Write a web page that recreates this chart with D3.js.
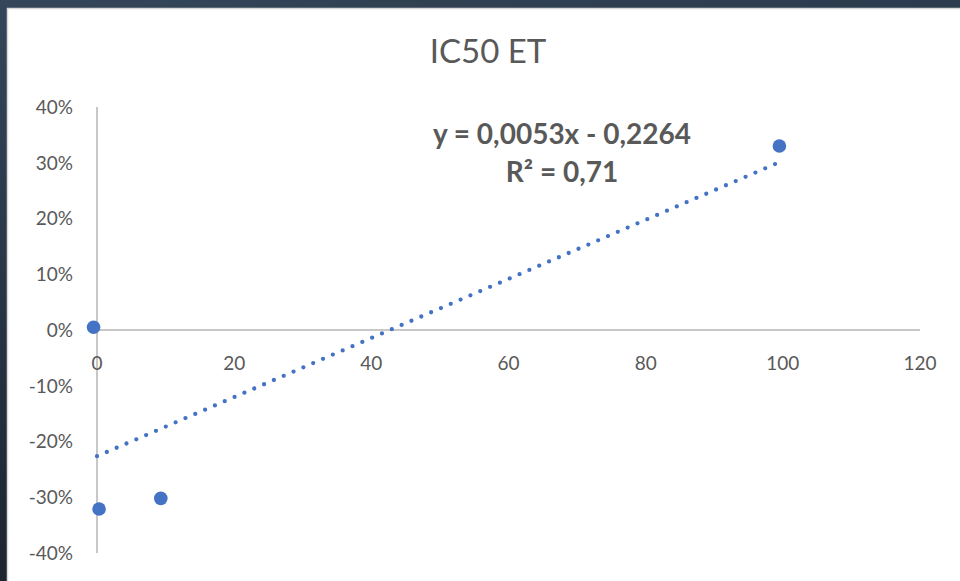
<!DOCTYPE html>
<html><head><meta charset="utf-8">
<script src="https://cdn.jsdelivr.net/npm/d3@7/dist/d3.min.js"></script>
<style>html,body{margin:0;padding:0;background:#1f2733;}svg{display:block;}</style>
</head><body>
<svg id="c" width="960" height="581"></svg>
<script>
// Data
const title = "IC50 ET";
const xValues = [-0.5, 0.3, 9.3, 99.5];
const yValues = [0.005, -0.321, -0.302, 0.330];
const xTicks = [0, 20, 40, 60, 80, 100, 120];
const yTicks = [-0.4, -0.3, -0.2, -0.1, 0, 0.1, 0.2, 0.3, 0.4];
const trendCoef = [0.0053, -0.2264]; // slope, intercept
const trendRange = [0, 100];
const trendLabels = ["y = 0,0053x - 0,2264", "R² = 0,71"];

const svg = d3.select("#c");
const W = 960, H = 581;
const font = "Lato, 'Open Sans', sans-serif";
const grey = "#595959";

// background
const defs = svg.append("defs");
const g = defs.append("linearGradient").attr("id","bg").attr("x1",0).attr("y1",0).attr("x2",0.3).attr("y2",1);
g.append("stop").attr("offset","0%").attr("stop-color","#34465a");
g.append("stop").attr("offset","100%").attr("stop-color","#1a212c");
svg.append("rect").attr("width",W).attr("height",H).attr("fill","url(#bg)");
svg.append("rect").attr("x",7.5).attr("y",8.5).attr("width",W).attr("height",H)
  .attr("fill","#ffffff").attr("stroke","#d9d9d9").attr("stroke-width",1.5);

const x = d3.scaleLinear().domain([0,120]).range([97,920]);
const y = d3.scaleLinear().domain([-0.4,0.4]).range([553,107]);

// axes lines
const axisColor = "#c8c8c8";
svg.append("line").attr("x1",x(0)).attr("x2",x(0)).attr("y1",y(0.4)).attr("y2",y(-0.4))
  .attr("stroke",axisColor).attr("stroke-width",2);
svg.append("line").attr("x1",x(0)).attr("x2",x(120)).attr("y1",y(0)).attr("y2",y(0))
  .attr("stroke",axisColor).attr("stroke-width",2);

// y tick labels
svg.append("g").selectAll("text").data(yTicks).join("text")
  .attr("x",73).attr("y",d=>y(d)).attr("dy","0.36em")
  .attr("text-anchor","end").attr("font-family",font).attr("font-size",19).attr("fill",grey)
  .text(d=>d3.format(".0%")(d).replace("\u2212","-"));

// x tick labels
svg.append("g").selectAll("text").data(xTicks).join("text")
  .attr("x",d=>x(d)).attr("y",y(0)+39.5)
  .attr("text-anchor","middle").attr("font-family",font).attr("font-size",19).attr("fill",grey)
  .text(d=>d);

// title
svg.append("text").attr("x",488).attr("y",62.5).attr("text-anchor","middle")
  .attr("font-family",font).attr("font-size",33).attr("fill",grey).text(title);

// trendline
const tl = trendRange.map(v=>[v, trendCoef[0]*v + trendCoef[1]]);
svg.append("path").attr("d", d3.line().x(d=>x(d[0])).y(d=>y(d[1]))(tl))
  .attr("stroke","#4472c4").attr("stroke-width",4.3).attr("stroke-linecap","round")
  .attr("stroke-dasharray","0,10.7").attr("fill","none");

// points
svg.append("g").selectAll("circle").data(xValues.map((v,i)=>[v,yValues[i]])).join("circle")
  .attr("cx",d=>x(d[0])).attr("cy",d=>y(d[1])).attr("r",6.8).attr("fill","#4472c4");

// equation labels
svg.append("text").attr("x",562).attr("y",144).attr("text-anchor","middle")
  .attr("font-family",font).attr("font-weight","bold").attr("font-size",28).attr("fill",grey)
  .text(trendLabels[0]);
svg.append("text").attr("x",562).attr("y",182).attr("text-anchor","middle")
  .attr("font-family",font).attr("font-weight","bold").attr("font-size",28).attr("fill",grey)
  .text(trendLabels[1]);
</script>
</body></html>
